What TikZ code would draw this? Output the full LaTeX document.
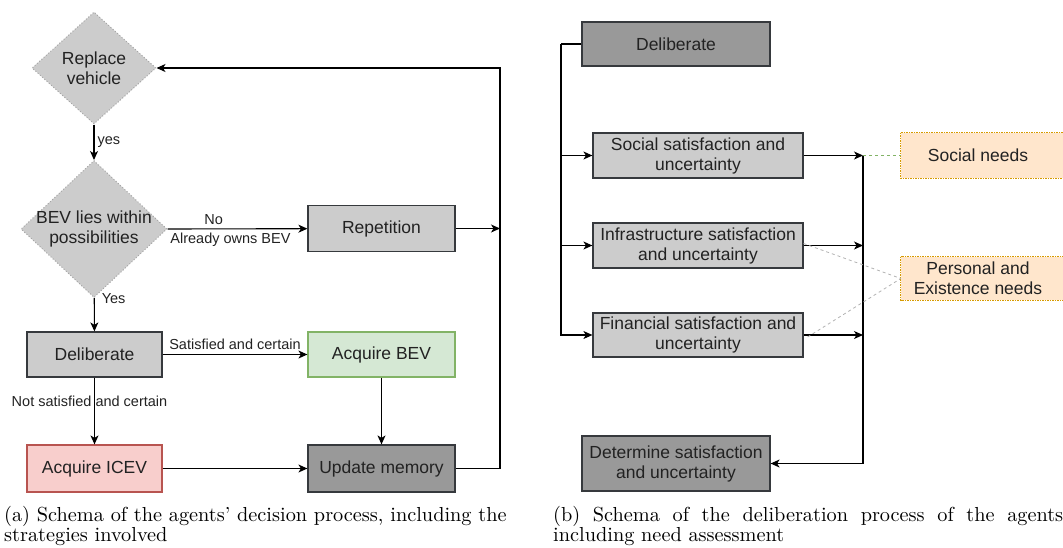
\documentclass[tikz,border=0pt]{standalone}
\usepackage{fontspec}
\usepackage{tikz}
\usetikzlibrary{shapes.geometric,arrows.meta,backgrounds}
\newfontfamily\diafont{Liberation Sans}
\newfontfamily\captfont{lmroman10-regular}[Extension=.otf]

\definecolor{boxline}{HTML}{36393D}
\definecolor{lightfill}{HTML}{CCCCCC}
\definecolor{darkfill}{HTML}{999999}
\definecolor{bevfill}{HTML}{D5E8D4}
\definecolor{bevline}{HTML}{82B366}
\definecolor{icevfill}{HTML}{F8CECC}
\definecolor{icevline}{HTML}{B85450}
\definecolor{needfill}{HTML}{FFE6CC}
\definecolor{needline}{HTML}{D79B00}
\definecolor{txtgray}{HTML}{222222}

\tikzset{
  box/.style={rectangle, draw=boxline, line width=1.2pt, fill=lightfill, inner sep=2pt,
    align=center, text=txtgray, font=\diafont\fontsize{17.5}{20}\selectfont},
  decide/.style={diamond, draw=gray!70, dotted, line width=1pt, fill=lightfill, inner sep=0pt},
  dtext/.style={align=center, text=txtgray, font=\diafont\fontsize{17.5}{20}\selectfont},
  need/.style={rectangle, inner sep=0pt, align=center, text=txtgray, minimum width=154pt,
    font=\diafont\fontsize{17.5}{20}\selectfont},
  needbox/.style={draw=needline, fill=needfill, line width=0.7pt, dash pattern=on 1.5pt off 1pt},
  flow/.style={draw=black, line width=1.1pt, -{Stealth[length=9pt,width=8pt,inset=2.5pt]}},
  lbl/.style={text=txtgray, inner sep=1pt, font=\diafont\fontsize{14.5}{16}\selectfont},
  capt/.style={anchor=north west, inner sep=0pt, text width=512pt, align=left,
    font=\captfont\fontsize{20.3}{20.5}\selectfont}
}

\begin{document}
\begin{tikzpicture}[x=1pt,y=-1pt]
\useasboundingbox (0,0) rectangle (1063,547);

% (a) decision process
\node[decide, minimum width=124pt, minimum height=112pt] (repl) at (94,68) {};
\node[dtext] (repltxt) at (repl) {Replace\\vehicle};
\node[decide, minimum width=146pt, minimum height=137pt] (bev) at (94,229) {};
\node[dtext] (bevtxt) at (bev) {BEV lies within\\possibilities};
\node[box, minimum width=147pt, minimum height=46pt] (rep) at (381.5,228.5) {Repetition};
\node[box, minimum width=135pt, minimum height=45pt] (delib) at (94.5,354.5) {Deliberate};
\node[box, draw=bevline, fill=bevfill, minimum width=147pt, minimum height=45pt] (acqbev) at (381.5,354.5) {Acquire BEV};
\node[box, draw=icevline, fill=icevfill, minimum width=135pt, minimum height=47pt] (acqicev) at (94.5,468.5) {Acquire ICEV};
\node[box, fill=darkfill, minimum width=147pt, minimum height=47pt] (upd) at (381.5,468.5) {Update memory};
\coordinate (loop) at (500,68);

\draw[flow] (repl) -- node[lbl, anchor=west, xshift=2pt] {yes} (bev);
\draw[flow] (bev.east) -- node[lbl, above=3pt, pos=0.33] {No} node[lbl, below=3pt, pos=0.45] {Already owns BEV} (rep);
\draw[flow] (bev) -- node[lbl, anchor=west, pos=0.02, xshift=6pt] {Yes} (delib);
\draw[flow] (delib) -- node[lbl, above=3pt] {Satisfied and certain} (acqbev);
\draw[flow] (delib) -- node[lbl, pos=0.35, xshift=-5pt] {Not satisfied and certain} (acqicev);
\draw[flow] (acqbev) -- (upd);
\draw[flow] (acqicev) -- (upd);
\draw[flow] (rep) -- (rep -| loop);
\draw[flow] (upd) -- (upd -| loop) -- (loop) -- (repl.east);

\node[capt] (capta) at (4,506) {(a) Schema of the agents’ decision process, including the\\strategies involved};

% (b) deliberation process
\node[box, fill=darkfill, minimum width=188pt, minimum height=44pt] (rdelib) at (676,44) {Deliberate};
\node[box, minimum width=210pt, minimum height=45pt] (social) at (698,155.5) {Social satisfaction and\\uncertainty};
\node[box, minimum width=210pt, minimum height=45pt] (infra) at (698,245.5) {Infrastructure satisfaction\\and uncertainty};
\node[box, minimum width=210pt, minimum height=44pt] (fin) at (698,335) {Financial satisfaction and\\uncertainty};
\node[box, fill=darkfill, minimum width=188pt, minimum height=55pt] (det) at (676,463.5) {Determine satisfaction\\and uncertainty};
\node[need, minimum height=45pt] (socneed) at (978,155.5) {Social needs};
\node[need, minimum height=43pt] (persneed) at (978,278.5) {Personal and\\Existence needs};
\begin{scope}[on background layer]
\draw[needbox] (socneed.north west) rectangle ([xshift=20pt]socneed.south east);
\draw[needbox] (persneed.north west) rectangle ([xshift=20pt]persneed.south east);
\end{scope}
\coordinate (busl) at (561,44);
\coordinate (busr) at (863,155.5);

\draw[line width=1.1pt] (rdelib.west) -- (busl);
\draw[flow] (busl) |- (fin);
\draw[flow] (busl |- social) -- (social);
\draw[flow] (busl |- infra) -- (infra);
\draw[flow] (social) -- (busr);
\draw[flow] (infra) -- (infra -| busr);
\draw[flow] (fin) -- (fin -| busr);
\draw[flow] (busr) |- (det);
\draw[bevline, dashed, line width=0.8pt] (busr) -- (socneed.west);
\draw[gray!60, dashed, line width=0.8pt] ([yshift=2pt]infra.east) -- (persneed.west);
\draw[gray!60, dashed, line width=0.8pt] ([xshift=4pt,yshift=-2pt]fin.east) -- (persneed.west);

\node[capt] (captb) at (553,506) {\makebox[510pt][s]{\spaceskip=.3333em plus 1fil\relax (b) Schema of the deliberation process of the agents}\\including need assessment};
\end{tikzpicture}
\end{document}
